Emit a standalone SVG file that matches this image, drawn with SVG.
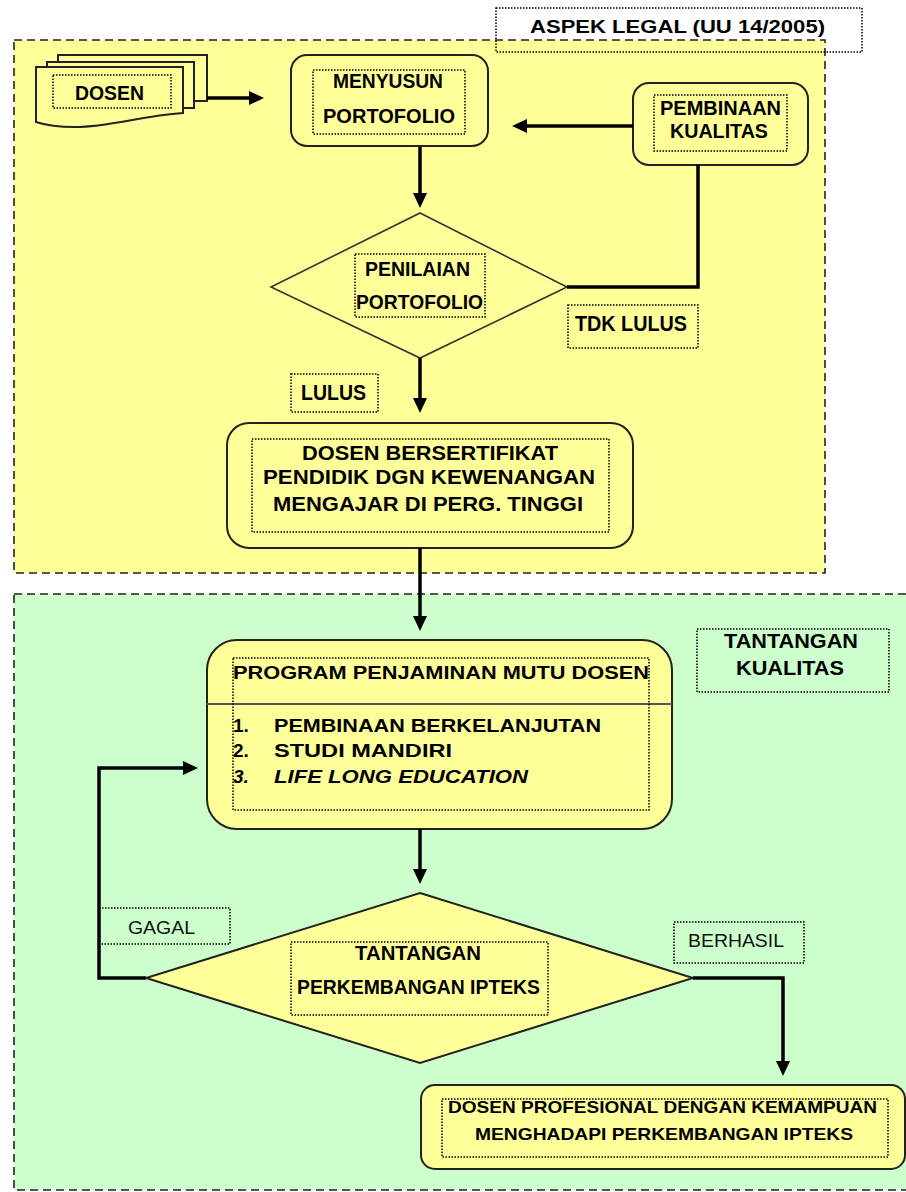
<svg xmlns="http://www.w3.org/2000/svg" width="906" height="1192" viewBox="0 0 906 1192">
<style>
  .t{font-family:"Liberation Sans","DejaVu Sans",sans-serif;font-weight:bold;fill:#000}
  .n{font-family:"Liberation Sans","DejaVu Sans",sans-serif;font-weight:normal;fill:#111}
  .box{fill:#FFFF99;stroke:#222;stroke-width:2}
  .dot{fill:none;stroke:#000;stroke-width:1.5;stroke-dasharray:1.5 1.5}
  .conn{fill:none;stroke:#000;stroke-width:3.5}
  .area{stroke:#222;stroke-width:1.6;stroke-dasharray:8 5}
</style>
<defs>
  <marker id="ah" markerUnits="userSpaceOnUse" markerWidth="15" markerHeight="14" refX="10" refY="7" orient="auto">
    <path d="M0,0 L15,7 L0,14 z" fill="#000"/>
  </marker>
</defs>
<rect width="906" height="1192" fill="#fff"/>
<g id="area-legal"><rect class="area" x="14" y="40" width="811" height="533" fill="#FFFF99"/></g>
<g id="area-kualitas"><rect class="area" x="14" y="594" width="910" height="596" fill="#CCFFCC"/></g>

<g id="aspek-legal">
  <rect class="dot" x="496" y="8" width="366" height="44"/>
  <text class="t" x="530" y="33" font-size="18" textLength="295" lengthAdjust="spacingAndGlyphs">ASPEK LEGAL (UU 14/2005)</text>
</g>

<g id="dosen">
  <rect class="box" x="58" y="55" width="149" height="46" stroke-width="1.8"/>
  <rect class="box" x="47" y="62" width="147" height="46" stroke-width="1.8"/>
  <path class="box" stroke-width="1.8" d="M36,67 H183 V113 C140,116 110,127 75,127 C55,127 42,124 36,122 Z"/>
  <rect class="dot" x="53" y="75" width="118" height="33"/>
  <text class="t" x="75" y="100" font-size="21" textLength="69" lengthAdjust="spacingAndGlyphs">DOSEN</text>
</g>

<g id="menyusun-portofolio">
  <rect class="box" x="291" y="55" width="197" height="91" rx="16"/>
  <rect class="dot" x="313" y="70" width="152" height="64"/>
  <text class="t" x="333" y="88" font-size="21" textLength="110" lengthAdjust="spacingAndGlyphs">MENYUSUN</text>
  <text class="t" x="323" y="123" font-size="21" textLength="132" lengthAdjust="spacingAndGlyphs">PORTOFOLIO</text>
</g>

<g id="pembinaan-kualitas">
  <rect class="box" x="633" y="83" width="175" height="82" rx="16"/>
  <rect class="dot" x="654" y="95" width="133" height="56"/>
  <text class="t" x="660" y="115" font-size="20" textLength="121" lengthAdjust="spacingAndGlyphs">PEMBINAAN</text>
  <text class="t" x="670" y="138" font-size="20" textLength="98" lengthAdjust="spacingAndGlyphs">KUALITAS</text>
</g>

<g id="penilaian-portofolio">
  <polygon points="420,213 567,287 420,358 271,287" fill="#FFFF99" stroke="#333" stroke-width="1.6"/>
  <rect class="dot" x="355" y="254" width="130" height="63"/>
  <text class="t" x="365" y="276" font-size="21" textLength="105" lengthAdjust="spacingAndGlyphs">PENILAIAN</text>
  <text class="t" x="356" y="309" font-size="21" textLength="127" lengthAdjust="spacingAndGlyphs">PORTOFOLIO</text>
</g>

<g id="label-tdk-lulus">
  <rect class="dot" x="568" y="305" width="130" height="43"/>
  <text class="t" x="575" y="331" font-size="22" textLength="112" lengthAdjust="spacingAndGlyphs">TDK LULUS</text>
</g>

<g id="label-lulus">
  <rect class="dot" x="291" y="374" width="87" height="38"/>
  <text class="t" x="301" y="400" font-size="22" textLength="65" lengthAdjust="spacingAndGlyphs">LULUS</text>
</g>

<g id="dosen-bersertifikat">
  <rect class="box" x="227" y="423" width="406" height="125" rx="22"/>
  <rect class="dot" x="252" y="439" width="357" height="93"/>
  <text class="t" x="302" y="460" font-size="20" textLength="256" lengthAdjust="spacingAndGlyphs">DOSEN BERSERTIFIKAT</text>
  <text class="t" x="263" y="484" font-size="20" textLength="332" lengthAdjust="spacingAndGlyphs">PENDIDIK DGN KEWENANGAN</text>
  <text class="t" x="273" y="511" font-size="20" textLength="310" lengthAdjust="spacingAndGlyphs">MENGAJAR DI PERG. TINGGI</text>
</g>

<g id="program-penjaminan">
  <rect class="box" x="207" y="640" width="465" height="189" rx="30"/>
  <line x1="207" y1="704" x2="672" y2="704" stroke="#555" stroke-width="2.2"/>
  <rect class="dot" x="233" y="658" width="416" height="152"/>
  <text class="t" x="233" y="679" font-size="19" textLength="416" lengthAdjust="spacingAndGlyphs">PROGRAM PENJAMINAN MUTU DOSEN</text>
  <text class="t" x="233" y="732" font-size="19">1.</text>
  <text class="t" x="274" y="732" font-size="19" textLength="327" lengthAdjust="spacingAndGlyphs">PEMBINAAN BERKELANJUTAN</text>
  <text class="t" x="233" y="757" font-size="19">2.</text>
  <text class="t" x="274" y="757" font-size="19" textLength="178" lengthAdjust="spacingAndGlyphs">STUDI MANDIRI</text>
  <text class="t" x="233" y="783" font-size="19" font-style="italic">3.</text>
  <text class="t" x="274" y="783" font-size="19" font-style="italic" textLength="254" lengthAdjust="spacingAndGlyphs">LIFE LONG EDUCATION</text>
</g>

<g id="tantangan-kualitas">
  <rect class="dot" x="697" y="629" width="192" height="63"/>
  <text class="t" x="724" y="648" font-size="20" textLength="134" lengthAdjust="spacingAndGlyphs">TANTANGAN</text>
  <text class="t" x="736" y="675" font-size="20" textLength="108" lengthAdjust="spacingAndGlyphs">KUALITAS</text>
</g>

<g id="tantangan-ipteks">
  <polygon points="420,893 693,978 420,1063 146,978" fill="#FFFF99" stroke="#222" stroke-width="2"/>
  <rect class="dot" x="291" y="942" width="257" height="73"/>
  <text class="t" x="355" y="960" font-size="21" textLength="126" lengthAdjust="spacingAndGlyphs">TANTANGAN</text>
  <text class="t" x="297" y="994" font-size="21" textLength="243" lengthAdjust="spacingAndGlyphs">PERKEMBANGAN IPTEKS</text>
</g>

<g id="label-gagal">
  <rect class="dot" x="99" y="908" width="131" height="36"/>
  <text class="n" x="128" y="934" font-size="19" textLength="67" lengthAdjust="spacingAndGlyphs">GAGAL</text>
</g>

<g id="label-berhasil">
  <rect class="dot" x="674" y="922" width="130" height="41"/>
  <text class="n" x="688" y="947" font-size="19" textLength="96" lengthAdjust="spacingAndGlyphs">BERHASIL</text>
</g>

<g id="dosen-profesional">
  <rect class="box" x="421" y="1085" width="484" height="84" rx="14"/>
  <rect class="dot" x="442" y="1099" width="446" height="58"/>
  <text class="t" x="448" y="1113" font-size="17" textLength="429" lengthAdjust="spacingAndGlyphs">DOSEN PROFESIONAL DENGAN KEMAMPUAN</text>
  <text class="t" x="475" y="1140" font-size="17" textLength="378" lengthAdjust="spacingAndGlyphs">MENGHADAPI PERKEMBANGAN IPTEKS</text>
</g>

<g id="connectors">
  <path class="conn" d="M207,98 H259" marker-end="url(#ah)"/>
  <path class="conn" d="M420,147 V203" marker-end="url(#ah)"/>
  <path class="conn" d="M633,126 H517" marker-end="url(#ah)"/>
  <path class="conn" d="M698,165 V287 H567"/>
  <path class="conn" d="M420,358 V408" marker-end="url(#ah)"/>
  <path class="conn" d="M420,548 V626" marker-end="url(#ah)"/>
  <path class="conn" d="M420,829 V879" marker-end="url(#ah)"/>
  <path class="conn" d="M146,978 H99 V768 H193" marker-end="url(#ah)"/>
  <path class="conn" d="M693,978 H783 V1071" marker-end="url(#ah)"/>
</g>
</svg>
